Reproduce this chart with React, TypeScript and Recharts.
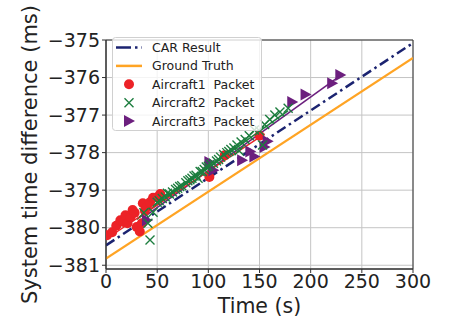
import React from "react"
import {
  ComposedChart,
  Line,
  Scatter,
  XAxis,
  YAxis,
  CartesianGrid,
  ReferenceArea,
  Legend,
} from "recharts"

// axes
const xTicks = [0, 50, 100, 150, 200, 250, 300]
const yTicks = [-381, -380, -379, -378, -377, -376, -375]

// reference lines (end points)
const carX = [0, 300]
const carY = [-380.47, -375.08]
const truthX = [0, 300]
const truthY = [-380.82, -375.48]

// per-aircraft fit lines
const fit1X = [0, 155]
const fit1Y = [-380.3, -377.5]
const fit2X = [30, 178]
const fit2Y = [-379.78, -376.88]
const fit3X = [38, 229]
const fit3Y = [-379.7, -375.95]

// packets
const a1X = [1, 6, 10, 14, 17, 19, 21, 24, 26, 28, 30, 33, 35, 36, 38, 40, 43, 46, 50, 53, 101, 116, 150]
const a1Y = [-380.2, -380.12, -379.95, -379.8, -379.85, -379.67, -379.88, -379.72, -379.53, -379.6, -379.98, -380.1, -379.88, -379.35, -379.55, -379.45, -379.32, -379.2, -379.19, -379.1, -378.65, -378.07, -377.55]

const a2X = [37, 41, 43, 46, 50, 52, 55, 58, 60, 62, 65, 68, 70, 72, 74, 78, 80, 82, 84, 86, 88, 90, 92, 94, 96, 98, 100, 102, 105, 108, 110, 112, 115, 118, 120, 122, 125, 128, 130, 132, 136, 140, 145, 150, 153, 155, 160, 165, 170, 178]
const a2Y = [-379.6, -379.88, -380.33, -379.59, -379.32, -379.28, -379.22, -379.18, -379.08, -379.1, -379.05, -378.98, -378.95, -378.9, -378.88, -378.8, -378.75, -378.72, -378.68, -378.62, -378.6, -378.68, -378.5, -378.5, -378.45, -378.38, -378.36, -378.3, -378.28, -378.22, -378.18, -378.12, -378.05, -378.0, -377.97, -377.92, -377.88, -377.8, -377.95, -377.72, -377.65, -377.55, -377.4, -377.42, -377.8, -377.25, -377.12, -377.0, -376.92, -376.82]

const a3X = [40, 101, 105, 133, 141, 145, 155, 158, 182, 195, 221, 229]
const a3Y = [-379.8, -378.25, -378.47, -378.2, -377.97, -378.1, -377.85, -377.7, -376.65, -376.45, -376.15, -375.93]

const zip = (xs: number[], ys: number[]) => xs.map((x, i) => ({ x, y: ys[i] }))

const NAVY = "#1b2370"
const ORANGE = "#ffa424"
const RED = "#ec2227"
const GREEN = "#1c7d3e"
const PURPLE = "#6c1f7e"
const FONT = "DejaVu Sans, sans-serif"

const fmt = (v: number) => (v < 0 ? `\u2212${Math.abs(v)}` : `${v}`)

const Dot = (p: any) => <circle cx={p.cx} cy={p.cy} r={5} fill={RED} />
const Cross = (p: any) => (
  <path
    d={`M${p.cx - 4.5},${p.cy - 4.5}L${p.cx + 4.5},${p.cy + 4.5}M${p.cx - 4.5},${p.cy + 4.5}L${p.cx + 4.5},${p.cy - 4.5}`}
    stroke={GREEN}
    strokeWidth={1.4}
    fill="none"
  />
)
const Tri = (p: any) => (
  <path d={`M${p.cx + 6},${p.cy}L${p.cx - 5},${p.cy - 6}L${p.cx - 5},${p.cy + 6}Z`} fill={PURPLE} />
)

const legendItems = [
  { name: "CAR Result", kind: "dashdot" },
  { name: "Ground Truth", kind: "line" },
  { name: "Aircraft1  Packet", kind: "dot" },
  { name: "Aircraft2  Packet", kind: "cross" },
  { name: "Aircraft3  Packet", kind: "tri" },
]

function LegendBox() {
  return (
    <svg width={150} height={94} style={{ display: "block" }}>
      <rect x={0.5} y={0.5} width={149} height={93} rx={3} fill="rgba(255,255,255,0.8)" stroke="#d0d0d0" />
      {legendItems.map((it, i) => {
        const cy = 10.5 + i * 18.4
        const cx = 17
        let icon: React.ReactNode = null
        if (it.kind === "dashdot")
          icon = <line x1={4} x2={30} y1={cy} y2={cy} stroke={NAVY} strokeWidth={2.5} strokeDasharray="15 4 2.5 4" />
        if (it.kind === "line") icon = <line x1={4} x2={30} y1={cy} y2={cy} stroke={ORANGE} strokeWidth={2.5} />
        if (it.kind === "dot") icon = <Dot cx={cx} cy={cy} />
        if (it.kind === "cross") icon = <Cross cx={cx} cy={cy} />
        if (it.kind === "tri") icon = <Tri cx={cx} cy={cy} />
        return (
          <g key={it.name}>
            {icon}
            <text x={40} y={cy + 4.5} fontSize={12.5} fill="#222" fontFamily={FONT} style={{ whiteSpace: "pre" }}>
              {it.name}
            </text>
          </g>
        )
      })}
    </svg>
  )
}

export default function App() {
  return (
    <div style={{ position: "absolute", left: 0, top: 0, background: "#fff" }}>
      <ComposedChart width={454} height={325} margin={{ top: 40, right: 41, bottom: 0, left: 0 }}>
        <CartesianGrid stroke="#c4c4c4" strokeWidth={1} />
        <XAxis
          dataKey="x"
          type="number"
          domain={[0, 300]}
          ticks={xTicks}
          height={56}
          tickSize={4}
          tickMargin={2}
          stroke="#333"
          tick={{ fill: "#222", fontSize: 19, fontFamily: FONT }}
          label={{ value: "Time (s)", position: "insideBottom", offset: 12, fill: "#222", fontSize: 20.5, fontFamily: FONT }}
          allowDataOverflow
        />
        <YAxis
          type="number"
          domain={[-381.1, -375]}
          ticks={yTicks}
          width={106}
          tickSize={4}
          tickMargin={2}
          stroke="#333"
          tickFormatter={fmt}
          tick={{ fill: "#222", fontSize: 19, fontFamily: FONT }}
          allowDataOverflow
          label={{
            content: (props: any) => {
              const vb = props.viewBox
              const x = vb.x + 37
              const y = vb.y + vb.height / 2
              return (
                <text x={x} y={y} transform={`rotate(-90 ${x} ${y})`} textAnchor="middle" fontSize={21} fill="#222" fontFamily={FONT}>
                  System time difference (ms)
                </text>
              )
            },
          }}
        />
        <ReferenceArea x1={0} x2={300} y1={-381.1} y2={-375} fill="none" stroke="#333" strokeWidth={1} ifOverflow="visible" />
        <Line data={zip(truthX, truthY)} dataKey="y" stroke={ORANGE} strokeWidth={2.2} dot={false} activeDot={false} isAnimationActive={false} />
        <Line data={zip(carX, carY)} dataKey="y" stroke={NAVY} strokeWidth={2.5} strokeDasharray="10 4 2.5 4" dot={false} activeDot={false} isAnimationActive={false} />
        <Scatter data={zip(a1X, a1Y)} dataKey="y" shape={Dot} isAnimationActive={false} />
        <Scatter data={zip(a3X, a3Y)} dataKey="y" shape={Tri} isAnimationActive={false} />
        <Scatter data={zip(a2X, a2Y)} dataKey="y" shape={Cross} isAnimationActive={false} />
        <Line data={zip(fit3X, fit3Y)} dataKey="y" stroke={PURPLE} strokeWidth={1.6} dot={false} activeDot={false} isAnimationActive={false} />
        <Line data={zip(fit2X, fit2Y)} dataKey="y" stroke={GREEN} strokeWidth={1.6} dot={false} activeDot={false} isAnimationActive={false} />
        <Line data={zip(fit1X, fit1Y)} dataKey="y" stroke={RED} strokeWidth={1.4} dot={false} activeDot={false} isAnimationActive={false} />
        <Legend
          verticalAlign="middle"
          layout="horizontal"
          align="center"
          content={() => <LegendBox />}
          wrapperStyle={{ left: 112, top: 37, width: "auto", height: "auto" }}
        />
      </ComposedChart>
    </div>
  )
}
